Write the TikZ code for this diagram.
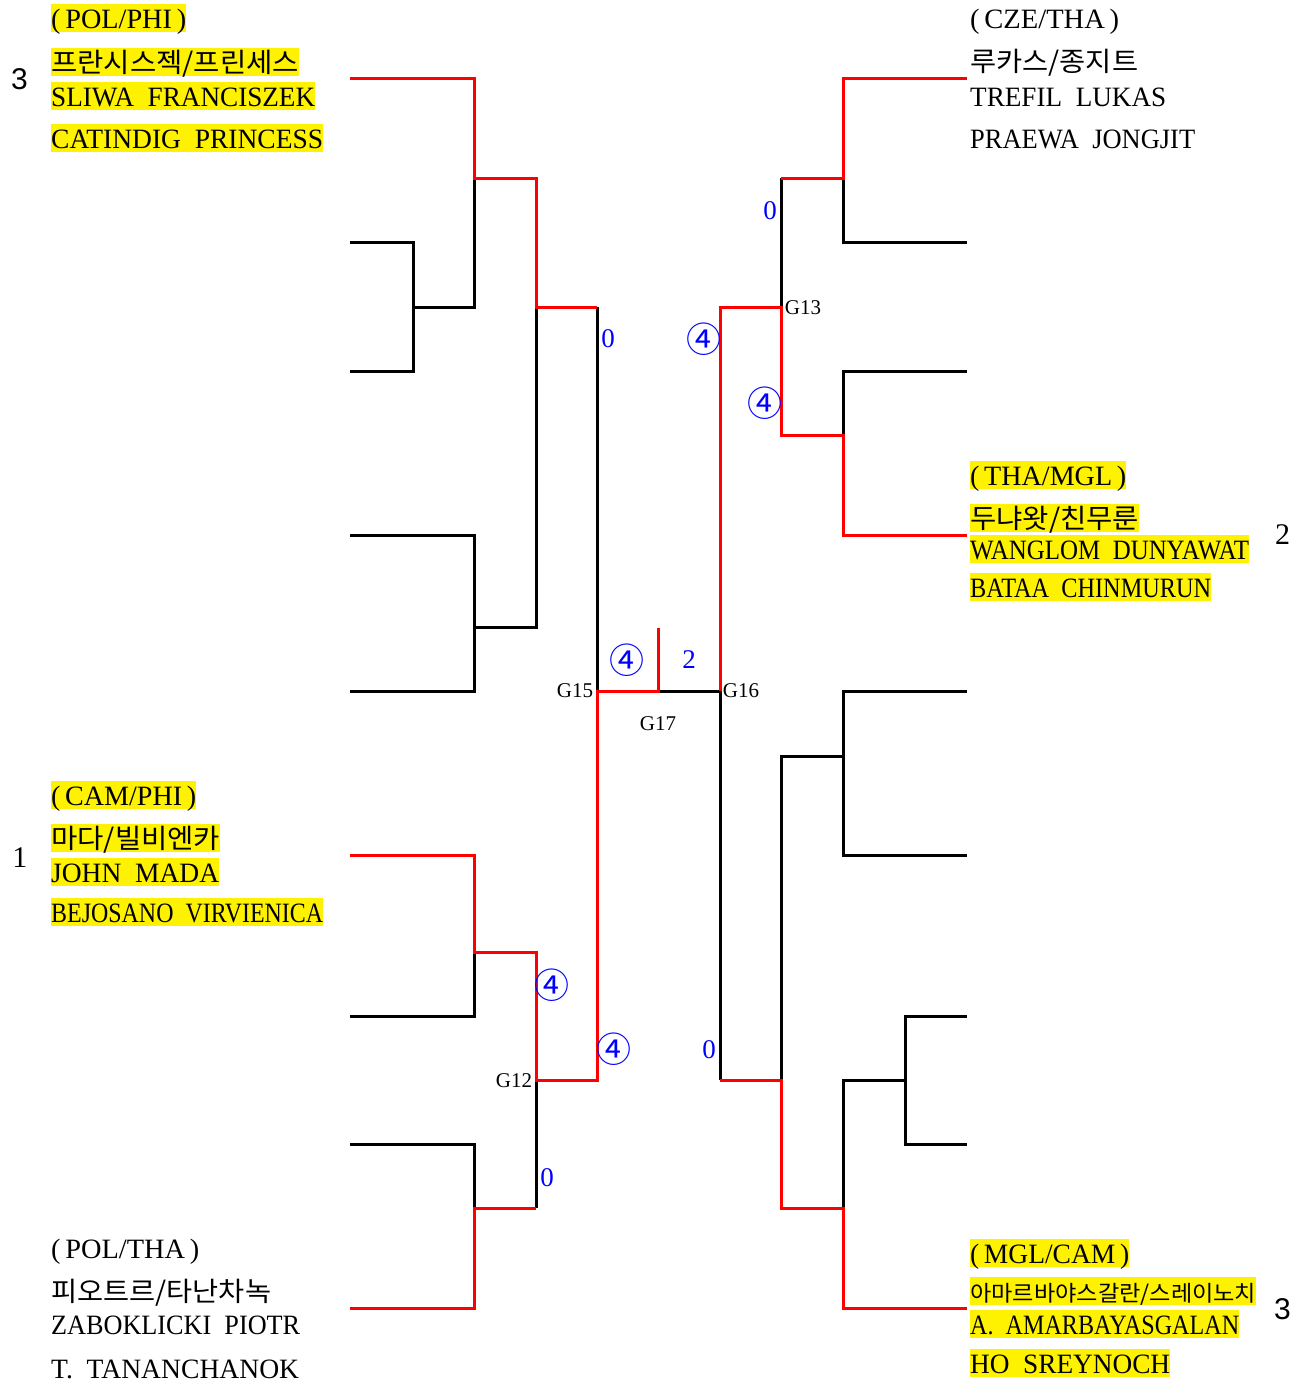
\documentclass[tikz,border=0pt]{standalone}
\usepackage{fontspec}
\usepackage{graphicx}
\setmainfont{Liberation Serif}
\newfontfamily\krfont{Noto Sans CJK KR}
\newfontfamily\arialfont{Liberation Sans}
\newcommand{\fw}[2]{\resizebox{#1pt}{\height}{#2}}
\tikzset{
  ln/.style={line width=3pt, line join=miter},
  bk/.style={ln, draw=black},
  rd/.style={ln, draw=red},
  row/.style={anchor=base west, inner xsep=0pt, inner ysep=1pt, text height=23pt, text depth=3pt, font=\fontsize{28}{30}\selectfont},
  hl/.style={row, fill=yellow},
  krrow/.style={font=\krfont\fontsize{27}{30}\selectfont},
  krsmall/.style={font=\krfont\fontsize{22}{26}\selectfont},
  score/.style={text=blue, inner sep=0pt, font=\fontsize{27}{30}\selectfont},
  circ/.style={text=blue, inner sep=0pt, font=\krfont\fontsize{35}{38}\selectfont},
  glabel/.style={inner sep=0pt, font=\fontsize{21}{23}\selectfont},
  seed/.style={anchor=base, inner sep=0pt, font=\fontsize{30}{32}\selectfont},
}
\begin{document}
\begin{tikzpicture}[x=1pt, y=-1pt]
\useasboundingbox[fill=white] (0,0) rectangle (1303,1382);

% ---------- junction coordinates ----------
\coordinate (G15) at (597,691);
\coordinate (G16) at (720,691);
\coordinate (G17) at (658,691);
\coordinate (G13) at (781,307);
\coordinate (G12) at (536,1080);

% ---------- black lines ----------
% left top
\draw[bk] (350,242) -- (413,242) -- (413,371) -- (350,371);
\draw[bk] (413,307) -- (474,307) -- (474,178);
\draw[bk] (350,535) -- (474,535) -- (474,691) -- (350,691);
\draw[bk] (474,627) -- (536,627) -- (536,307);
\draw[bk] (597,307) -- (G15);
% left bottom
\draw[bk] (350,1016) -- (474,1016) -- (474,952);
\draw[bk] (G12) -- (536,1208);
\draw[bk] (350,1144) -- (474,1144) -- (474,1208);
% final
\draw[bk] (G17) -- (G16);
% right top
\draw[bk] (843,178) -- (843,242) -- (967,242);
\draw[bk] (781,178) -- (G13);
\draw[bk] (967,371) -- (843,371) -- (843,435);
% right bottom
\draw[bk] (G16) -- (720,1080);
\draw[bk] (781,1080) -- (781,756) -- (843,756);
\draw[bk] (967,691) -- (843,691) -- (843,855) -- (967,855);
\draw[bk] (843,1208) -- (843,1080) -- (905,1080);
\draw[bk] (967,1016) -- (905,1016) -- (905,1144) -- (967,1144);

% ---------- red lines ----------
\draw[rd] (350,78) -- (474,78) -- (474,178) -- (536,178) -- (536,307) -- (597,307);
\draw[rd] (350,855) -- (474,855) -- (474,952) -- (536,952) -- (G12) -- (597,1080) -- (G15) -- (G17) -- (658,628);
\draw[rd] (350,1308) -- (474,1308) -- (474,1208) -- (536,1208);
\draw[rd] (967,78) -- (843,78) -- (843,178) -- (781,178);
\draw[rd] (G16) -- (720,307) -- (G13) -- (781,435) -- (843,435) -- (843,535) -- (967,535);
\draw[rd] (720,1080) -- (781,1080) -- (781,1208) -- (843,1208) -- (843,1308) -- (967,1308);

% ---------- match labels ----------
\node[glabel] (g15) at (575,691) {G15};
\node[glabel] (g16) at (741,691) {G16};
\node[glabel] (g17) at (658,724) {G17};
\node[glabel] (g13) at (803,308) {G13};
\node[glabel] (g12) at (514,1081) {G12};

% ---------- scores ----------
\node[score] (s1) at (608,339) {0};
\node[circ]  (s2) at (704,339) {④};
\node[score] (s3) at (770,211) {0};
\node[circ]  (s4) at (765,403) {④};
\node[circ]  (s5) at (627,660) {④};
\node[score] (s6) at (689,660) {2};
\node[circ]  (s7) at (552,985) {④};
\node[circ]  (s8) at (614,1049) {④};
\node[score] (s9) at (709,1050) {0};
\node[score] (s10) at (547,1178) {0};

% ---------- seeds ----------
\node[seed, font=\arialfont\fontsize{30}{32}\selectfont] (seedA) at (19.5,89) {3};
\node[seed] (seedB) at (20,867) {1};
\node[seed] (seedC) at (1282.5,544) {2};
\node[seed, font=\arialfont\fontsize{30}{32}\selectfont] (seedD) at (1282.5,1319) {3};

% ---------- team texts ----------
% left top
\node[hl] (a1) at (51,28) {\fw{135}{(\,POL/PHI\,)}};
\node[hl,krrow] (a2) at (51,72) {\fw{248}{프란시스젝/프린세스}};
\node[hl] (a3) at (51,106) {\fw{264}{SLIWA\ \ FRANCISZEK}};
\node[hl] (a4) at (51,148) {\fw{272}{CATINDIG\ \ PRINCESS}};
% right top
\node[row] (b1) at (970,28) {\fw{149}{(\,CZE/THA\,)}};
\node[row,krrow] (b2) at (970,71) {\fw{168}{루카스/종지트}};
\node[row] (b3) at (970,106) {\fw{196}{TREFIL\ \ LUKAS}};
\node[row] (b4) at (970,148) {\fw{225}{PRAEWA\ \ JONGJIT}};
% right middle
\node[hl] (c1) at (970,485) {\fw{156}{(\,THA/MGL\,)}};
\node[hl,krrow] (c2) at (970,528) {\fw{169}{두냐왓/친무룬}};
\node[hl] (c3) at (970,559) {\fw{279}{WANGLOM\ \ DUNYAWAT}};
\node[hl] (c4) at (970,597) {\fw{241}{BATAA\ \ CHINMURUN}};
% left middle
\node[hl] (d1) at (51,805) {\fw{145}{(\,CAM/PHI\,)}};
\node[hl,krrow] (d2) at (51,848) {\fw{169}{마다/빌비엔카}};
\node[hl] (d3) at (51,882) {\fw{168}{JOHN\ \ MADA}};
\node[hl] (d4) at (51,922) {\fw{272}{BEJOSANO\ \ VIRVIENICA}};
% left bottom
\node[row] (e1) at (51,1258) {\fw{148}{(\,POL/THA\,)}};
\node[row,krrow] (e2) at (51,1301) {\fw{220}{피오트르/타난차녹}};
\node[row] (e3) at (51,1334) {\fw{249}{ZABOKLICKI\ \ PIOTR}};
\node[row] (e4) at (51,1378) {\fw{248}{T.\ \ TANANCHANOK}};
% right bottom
\node[hl] (f1) at (970,1263) {\fw{159}{(\,MGL/CAM\,)}};
\node[hl,krsmall] (f2) at (970,1301) {\fw{286}{아마르바야스갈란/스레이노치}};
\node[hl] (f3) at (970,1334) {\fw{269}{A.\ \ AMARBAYASGALAN}};
\node[hl] (f4) at (970,1373) {\fw{200}{HO\ \ SREYNOCH}};
\end{tikzpicture}
\end{document}
